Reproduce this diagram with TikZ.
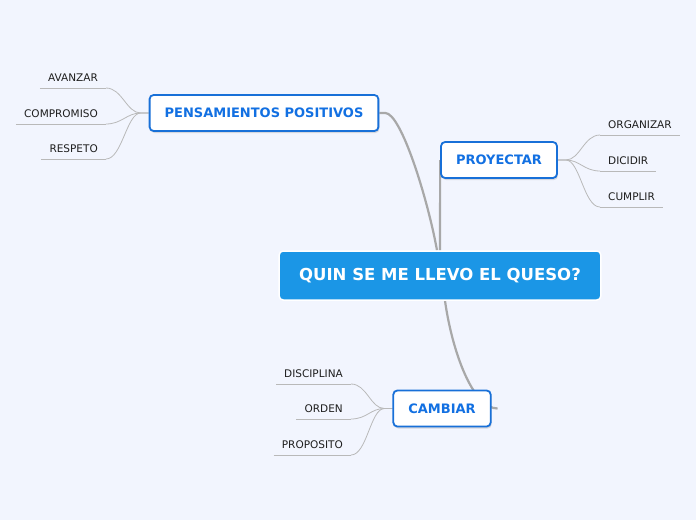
\documentclass[tikz,border=0pt]{standalone}
\usepackage{fontspec}
\setmainfont{DejaVu Sans}
\usetikzlibrary{positioning, calc, shadows, backgrounds}

\definecolor{fondo}{RGB}{242,245,254}
\definecolor{azulcentral}{RGB}{27,150,230}
\definecolor{azulborde}{RGB}{24,112,216}
\definecolor{azultexto}{RGB}{18,112,226}
\definecolor{ramagris}{RGB}{168,168,168}
\definecolor{hojagris}{RGB}{185,185,185}
\definecolor{hojatexto}{RGB}{30,30,30}

\tikzset{
  central/.style={fill=azulcentral, draw=white, line width=1.5pt, rounded corners=4pt,
    text=white, font=\fontsize{16.5}{18}\selectfont\bfseries, inner xsep=20pt, minimum height=49pt},
  rama/.style={fill=white, draw=azulborde, line width=1.8pt, rounded corners=4pt,
    text=azultexto, font=\fontsize{13}{15}\selectfont\bfseries, inner xsep=15pt, minimum height=36pt,
    drop shadow={opacity=0.25, shadow xshift=1pt, shadow yshift=-2pt}},
  hoja/.style={text=hojatexto, font=\fontsize{10.5}{12}\selectfont, inner xsep=8pt, inner ysep=6pt,
    text height=7.5pt, text depth=0pt},
  conector/.style={draw=ramagris, line width=2.2pt},
  leafline/.style={draw=hojagris, line width=0.8pt},
}

\begin{document}
\begin{tikzpicture}[x=1pt, y=-1pt]
\useasboundingbox (0,0) rectangle (696,520);

% main topic and branches
\node[central] (queso) at (440,275.5) {QUIN SE ME LLEVO EL QUESO?};
\node[rama] (pensamientos) at (264,113) {PENSAMIENTOS POSITIVOS};
\node[rama] (proyectar) at (499,160) {PROYECTAR};
\node[rama] (cambiar) at (442,408.5) {CAMBIAR};

% leaves
\node[hoja, anchor=south east] (avanzar) at (106,88) {AVANZAR};
\node[hoja, anchor=south east] (compromiso) at (106,124) {COMPROMISO};
\node[hoja, anchor=south east] (respeto) at (106,159) {RESPETO};

\node[hoja, anchor=south west] (organizar) at (600,135) {ORGANIZAR};
\node[hoja, anchor=south west] (dicidir) at (600,171) {DICIDIR};
\node[hoja, anchor=south west] (cumplir) at (600,207) {CUMPLIR};

\node[hoja, anchor=south east] (disciplina) at (351,384) {DISCIPLINA};
\node[hoja, anchor=south east] (orden) at (351,419) {ORDEN};
\node[hoja, anchor=south east] (proposito) at (351,455) {PROPOSITO};

\begin{scope}[on background layer]
\fill[fondo] (0,0) rectangle (696,520);

% branches
\draw[conector] ($(queso.north)+(-3,0)$) .. controls +(-9,-50) and +(16,0) .. ($(pensamientos.east)+(6,0)$) -- (pensamientos.east);
\draw[conector] (queso.north) .. controls +(0,-30) and +(0,40) .. (proyectar.west);
\draw[conector] ($(queso.south)+(5,0)$) .. controls +(7,50) and +(-25,0) .. ($(cambiar.east)+(6,0)$);

% leaf lines
\foreach \h in {avanzar, compromiso, respeto, organizar, dicidir, cumplir, disciplina, orden, proposito}
  \draw[leafline] (\h.south west) -- (\h.south east);

\foreach \h in {avanzar, compromiso, respeto}
  \draw[leafline] (pensamientos.west) -- ++(-8,0) .. controls +(-14,0) and +(16,0) .. (\h.south east);
\foreach \h in {organizar, dicidir, cumplir}
  \draw[leafline] (proyectar.east) -- ++(8,0) .. controls +(14,0) and +(-16,0) .. (\h.south west);
\foreach \h in {disciplina, orden, proposito}
  \draw[leafline] (cambiar.west) -- ++(-8,0) .. controls +(-14,0) and +(16,0) .. (\h.south east);
\end{scope}
\end{tikzpicture}
\end{document}
